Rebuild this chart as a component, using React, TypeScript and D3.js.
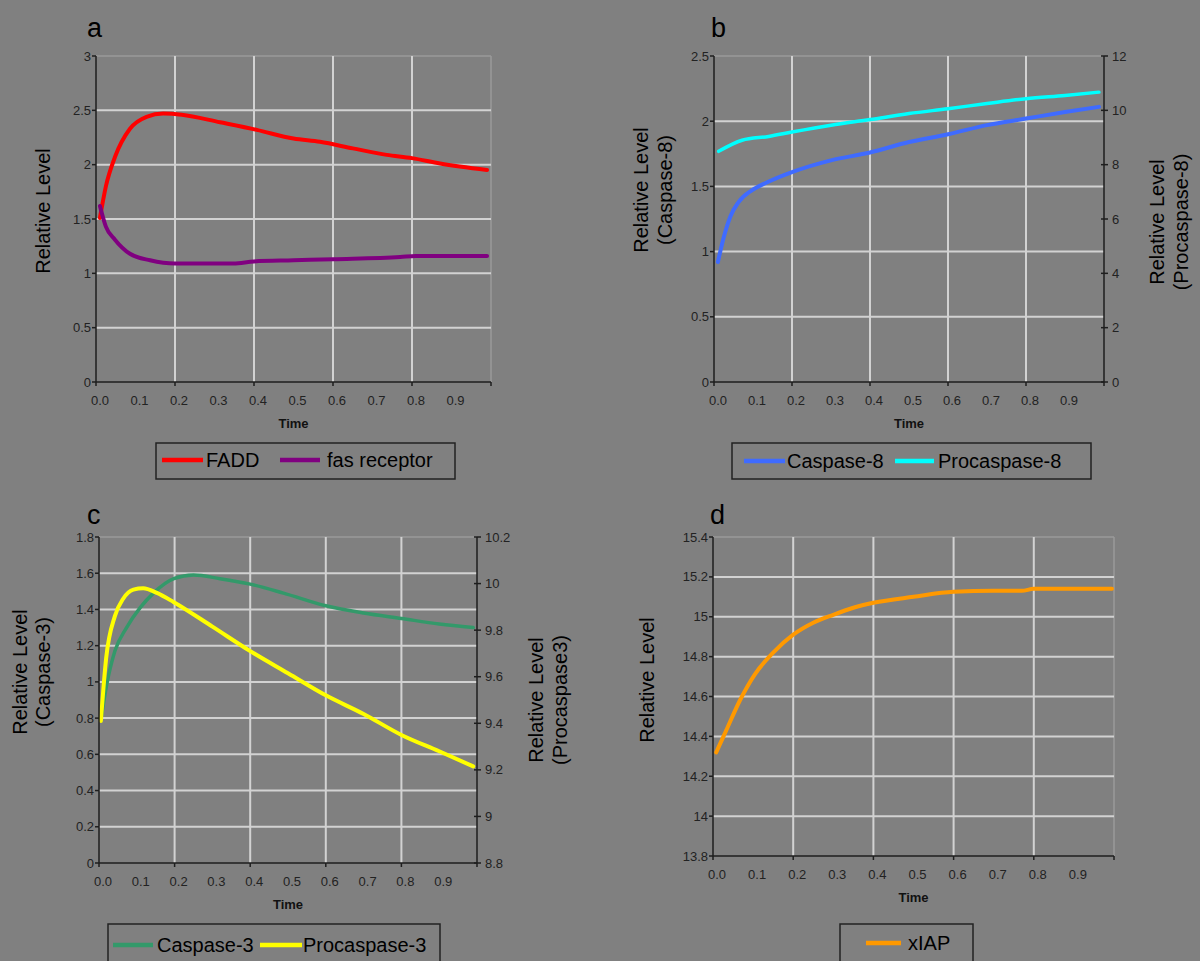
import * as d3 from 'd3';

// time points / values, [time, level]
const fadd = [
  [0.01, 1.51], [0.025, 1.8], [0.048, 2.07], [0.086, 2.33], [0.128, 2.44], [0.17, 2.47],
  [0.217, 2.46], [0.314, 2.39], [0.407, 2.32], [0.5, 2.24], [0.567, 2.21], [0.65, 2.15],
  [0.736, 2.09], [0.8, 2.06], [0.871, 2.01], [0.99, 1.95],
];
const fasReceptor = [
  [0.01, 1.62], [0.025, 1.43], [0.048, 1.31], [0.086, 1.18], [0.137, 1.12], [0.2, 1.09],
  [0.348, 1.09], [0.4, 1.11], [0.5, 1.12], [0.6, 1.13], [0.77, 1.15], [0.81, 1.16], [0.99, 1.16],
];
const caspase8 = [
  [0.01, 0.92], [0.025, 1.11], [0.042, 1.27], [0.063, 1.38], [0.097, 1.47], [0.135, 1.53],
  [0.2, 1.61], [0.3, 1.7], [0.4, 1.76], [0.5, 1.84], [0.6, 1.9], [0.7, 1.97], [0.8, 2.02],
  [0.9, 2.07], [0.987, 2.11],
];
const procaspase8 = [
  [0.012, 8.49], [0.072, 8.9], [0.14, 9.04], [0.2, 9.2], [0.3, 9.45], [0.4, 9.66], [0.5, 9.88],
  [0.6, 10.06], [0.7, 10.25], [0.8, 10.43], [0.9, 10.55], [0.987, 10.67],
];
const caspase3 = [
  [0.005, 0.79], [0.02, 0.98], [0.042, 1.17], [0.073, 1.3], [0.109, 1.41], [0.144, 1.49],
  [0.198, 1.57], [0.25, 1.59], [0.32, 1.57], [0.4, 1.54], [0.488, 1.49], [0.6, 1.42],
  [0.7, 1.38], [0.8, 1.35], [0.9, 1.32], [0.99, 1.3],
];
const procaspase3 = [
  [0.005, 9.41], [0.019, 9.68], [0.042, 9.86], [0.064, 9.935], [0.091, 9.974], [0.117, 9.98],
  [0.153, 9.96], [0.198, 9.92], [0.3, 9.815], [0.4, 9.71], [0.5, 9.615], [0.6, 9.52],
  [0.7, 9.44], [0.8, 9.35], [0.9, 9.28], [0.99, 9.215],
];
const xiap = [
  [0.008, 14.32], [0.033, 14.43], [0.067, 14.58], [0.104, 14.71], [0.15, 14.82], [0.2, 14.91],
  [0.25, 14.97], [0.3, 15.01], [0.35, 15.045], [0.4, 15.07], [0.5, 15.1], [0.6, 15.125],
  [0.7, 15.13], [0.77, 15.13], [0.8, 15.14], [0.995, 15.14],
];

const timeLabels = [0, 0.1, 0.2, 0.3, 0.4, 0.5, 0.6, 0.7, 0.8, 0.9];
const timeGrid = [0.2, 0.4, 0.6, 0.8];
const timeTicks = [0, 0.2, 0.4, 0.6, 0.8, 1];

const ticksA = ['0', '0.5', '1', '1.5', '2', '2.5', '3'];
const ticksB = ['0', '0.5', '1', '1.5', '2', '2.5'];
const ticksBRight = ['0', '2', '4', '6', '8', '10', '12'];
const ticksC = ['0', '0.2', '0.4', '0.6', '0.8', '1', '1.2', '1.4', '1.6', '1.8'];
const ticksCRight = ['8.8', '9', '9.2', '9.4', '9.6', '9.8', '10', '10.2'];
const ticksD = ['13.8', '14', '14.2', '14.4', '14.6', '14.8', '15', '15.2', '15.4'];

const BG = '#808080';
const GRID = '#d2d2d2';
const AXIS = '#1e1e1e';
const FONT = '"Liberation Sans", Arial, sans-serif';

type Series = { data: number[][]; color: string; width: number; right?: boolean; name: string };
type LegendItem = { x0: number; x1: number; tx: number };

type PanelProps = {
  letter: string;
  letterX: number;
  letterY: number;
  box: { left: number; right: number; top: number; bottom: number };
  yTicks: string[];
  rightTicks?: string[];
  series: Series[];
  titleLeft: { lines: string[]; xs: number[]; y: number };
  titleRight?: { lines: string[]; xs: number[]; y: number };
  legend: { x: number; y: number; w: number; h: number; cy: number; items: LegendItem[] };
};

function Panel({ letter, letterX, letterY, box, yTicks, rightTicks, series, titleLeft, titleRight, legend }: PanelProps) {
  const { left, right, top, bottom } = box;
  const x = d3.scaleLinear().domain([0, 1]).range([left, right]);
  const yv = yTicks.map(Number);
  const y = d3.scaleLinear().domain([yv[0], yv[yv.length - 1]]).range([bottom, top]);
  const rv = rightTicks ? rightTicks.map(Number) : [0, 1];
  const y2 = d3.scaleLinear().domain([rv[0], rv[rv.length - 1]]).range([bottom, top]);

  const line = (s: Series) =>
    d3
      .line<number[]>()
      .x((d) => x(d[0]))
      .y((d) => (s.right ? y2(d[1]) : y(d[1])))
      .curve(d3.curveMonotoneX)(s.data) || '';

  const fmt = d3.format('.1f');

  return (
    <g>
      <text x={letterX} y={letterY} fontSize={27} fontFamily={FONT} fill="#000">
        {letter}
      </text>

      {/* plot frame: faint top and right edge */}
      <line x1={left} x2={right} y1={top} y2={top} stroke="#9a9a9a" strokeWidth={1.5} />
      {!rightTicks && <line x1={right} x2={right} y1={top} y2={bottom} stroke="#9a9a9a" strokeWidth={1.5} />}

      {/* gridlines */}
      {yv.slice(1, -1).map((v) => (
        <line key={'h' + v} x1={left} x2={right} y1={y(v)} y2={y(v)} stroke={GRID} strokeWidth={2} />
      ))}
      {timeGrid.map((t) => (
        <line key={'v' + t} x1={x(t)} x2={x(t)} y1={top} y2={bottom} stroke={GRID} strokeWidth={2} />
      ))}

      {/* series */}
      {series.map((s) => (
        <path key={s.name} d={line(s)} fill="none" stroke={s.color} strokeWidth={s.width} strokeLinejoin="round" strokeLinecap="round" />
      ))}

      {/* left axis */}
      <line x1={left} x2={left} y1={top} y2={bottom} stroke={AXIS} strokeWidth={1.5} />
      {yv.map((v, i) => (
        <g key={'yl' + i}>
          <line x1={left - 4} x2={left} y1={y(v)} y2={y(v)} stroke={AXIS} strokeWidth={1.5} />
          <text x={left - 5} y={y(v)} dy="0.35em" textAnchor="end" fontSize={13} fontFamily={FONT} fill="#222">
            {yTicks[i]}
          </text>
        </g>
      ))}

      {/* right axis */}
      {rightTicks && (
        <g>
          <line x1={right} x2={right} y1={top} y2={bottom} stroke={AXIS} strokeWidth={1.5} />
          {rv.map((v, i) => (
            <g key={'yr' + i}>
              <line x1={right - 3} x2={right + 4} y1={y2(v)} y2={y2(v)} stroke={AXIS} strokeWidth={1.5} />
              <text x={right + 8} y={y2(v)} dy="0.35em" fontSize={13} fontFamily={FONT} fill="#222">
                {rightTicks[i]}
              </text>
            </g>
          ))}
        </g>
      )}

      {/* bottom axis */}
      <line x1={left} x2={right} y1={bottom} y2={bottom} stroke={AXIS} strokeWidth={1.5} />
      {timeTicks.map((t) => (
        <line key={'xt' + t} x1={x(t)} x2={x(t)} y1={bottom} y2={bottom + 4} stroke={AXIS} strokeWidth={1.5} />
      ))}
      {timeLabels.map((t) => (
        <text key={'xl' + t} x={x(t) + 4} y={bottom + 23} textAnchor="middle" fontSize={13} fontFamily={FONT} fill="#222">
          {fmt(t)}
        </text>
      ))}
      <text x={(left + right) / 2} y={bottom + 46} textAnchor="middle" fontSize={13} fontWeight="bold" fontFamily={FONT} fill="#111">
        Time
      </text>

      {/* axis titles */}
      {titleLeft.lines.map((l, i) => (
        <text
          key={'tl' + i}
          transform={`translate(${titleLeft.xs[i]},${titleLeft.y}) rotate(-90)`}
          textAnchor="middle"
          dominantBaseline="central"
          fontSize={20}
          fontFamily={FONT}
          fill="#000"
        >
          {l}
        </text>
      ))}
      {titleRight &&
        titleRight.lines.map((l, i) => (
          <text
            key={'tr' + i}
            transform={`translate(${titleRight.xs[i]},${titleRight.y}) rotate(-90)`}
            textAnchor="middle"
            dominantBaseline="central"
            fontSize={20}
            fontFamily={FONT}
            fill="#000"
          >
            {l}
          </text>
        ))}

      {/* legend */}
      <rect x={legend.x} y={legend.y} width={legend.w} height={legend.h} fill={BG} stroke="#222" strokeWidth={1.5} />
      {series.map((s, i) => {
        const it = legend.items[i];
        return (
          <g key={'lg' + i}>
            <line x1={it.x0} x2={it.x1} y1={legend.cy} y2={legend.cy} stroke={s.color} strokeWidth={4.5} />
            <text x={it.tx} y={legend.cy} dy="0.36em" fontSize={20} fontFamily={FONT} fill="#000">
              {s.name}
            </text>
          </g>
        );
      })}
    </g>
  );
}

export default function App() {
  return (
    <svg width={1200} height={961} style={{ position: 'absolute', left: 0, top: 0, background: BG }}>
      <rect x={0} y={0} width={1200} height={961} fill={BG} />
      <Panel
        letter="a"
        letterX={87}
        letterY={37}
        box={{ left: 96, right: 491, top: 56, bottom: 382 }}
        yTicks={ticksA}
        series={[
          { data: fadd, color: '#ff0000', width: 4, name: 'FADD' },
          { data: fasReceptor, color: '#800080', width: 4, name: 'fas receptor' },
        ]}
        titleLeft={{ lines: ['Relative Level'], xs: [43], y: 211 }}
        legend={{
          x: 156, y: 443, w: 299, h: 36, cy: 460,
          items: [{ x0: 162, x1: 203, tx: 206 }, { x0: 280, x1: 320, tx: 327 }],
        }}
      />
      <Panel
        letter="b"
        letterX={711}
        letterY={37}
        box={{ left: 714, right: 1104, top: 56, bottom: 382 }}
        yTicks={ticksB}
        rightTicks={ticksBRight}
        series={[
          { data: caspase8, color: '#3f6bff', width: 4, name: 'Caspase-8' },
          { data: procaspase8, color: '#00ffff', width: 3.5, right: true, name: 'Procaspase-8' },
        ]}
        titleLeft={{ lines: ['Relative Level', '(Caspase-8)'], xs: [641, 665], y: 190 }}
        titleRight={{ lines: ['Relative Level', '(Procaspase-8)'], xs: [1157, 1181], y: 222 }}
        legend={{
          x: 732, y: 443, w: 359, h: 36, cy: 461,
          items: [{ x0: 744, x1: 785, tx: 787 }, { x0: 895, x1: 934, tx: 938 }],
        }}
      />
      <Panel
        letter="c"
        letterX={87}
        letterY={524}
        box={{ left: 99, right: 477, top: 537, bottom: 863 }}
        yTicks={ticksC}
        rightTicks={ticksCRight}
        series={[
          { data: caspase3, color: '#33996a', width: 3.5, name: 'Caspase-3' },
          { data: procaspase3, color: '#ffff00', width: 4, right: true, name: 'Procaspase-3' },
        ]}
        titleLeft={{ lines: ['Relative Level', '(Caspase-3)'], xs: [20, 43], y: 672 }}
        titleRight={{ lines: ['Relative Level', '(Procaspase3)'], xs: [536, 560], y: 700 }}
        legend={{
          x: 108, y: 924, w: 332, h: 40, cy: 945,
          items: [{ x0: 113, x1: 153, tx: 157 }, { x0: 260, x1: 302, tx: 303 }],
        }}
      />
      <Panel
        letter="d"
        letterX={710}
        letterY={524}
        box={{ left: 713, right: 1114, top: 537, bottom: 856 }}
        yTicks={ticksD}
        series={[{ data: xiap, color: '#ff9900', width: 4, name: 'xIAP' }]}
        titleLeft={{ lines: ['Relative Level'], xs: [647], y: 680 }}
        legend={{
          x: 840, y: 924, w: 133, h: 40, cy: 943,
          items: [{ x0: 866, x1: 901, tx: 908 }],
        }}
      />
    </svg>
  );
}
